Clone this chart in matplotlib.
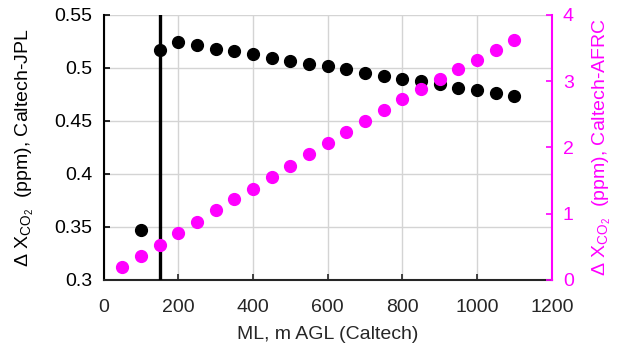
import matplotlib.pyplot as plt

plt.rcParams['font.family'] = ['Liberation Sans', 'DejaVu Sans']
plt.rcParams['mathtext.fontset'] = 'custom'
plt.rcParams['mathtext.rm'] = 'Liberation Sans'
plt.rcParams['mathtext.it'] = 'Liberation Sans'

# Caltech-JPL difference (left axis)
ml_jpl = [100, 150, 200, 250, 300, 350, 400, 450, 500, 550, 600, 650, 700,
          750, 800, 850, 900, 950, 1000, 1050, 1100]
dx_jpl = [0.347, 0.517, 0.524, 0.521, 0.518, 0.5155, 0.5127, 0.5096, 0.5064,
          0.504, 0.5015, 0.499, 0.4955, 0.4925, 0.4895, 0.4873, 0.4845,
          0.4813, 0.4794, 0.4766, 0.4738]

# Caltech-AFRC difference (right axis)
ml_afrc = [50, 100, 150, 200, 250, 300, 350, 400, 450, 500, 550, 600, 650,
           700, 750, 800, 850, 900, 950, 1000, 1050, 1100]
dx_afrc = [0.2, 0.362, 0.528, 0.704, 0.88, 1.05, 1.217, 1.377, 1.549, 1.724,
           1.896, 2.062, 2.228, 2.393, 2.564, 2.725, 2.876, 3.027, 3.178,
           3.318, 3.469, 3.62]

ml_mark = 152
magenta = '#ff00ff'
fs = 14

fig = plt.figure(figsize=(6.25, 3.5), dpi=100)
ax = fig.add_axes([0.1656, 0.2, 0.7172, 0.758])
ax2 = ax.twinx()

ax.plot(ml_jpl, dx_jpl, 'o', color='black', markersize=8.5, zorder=3)
ax.axvline(ml_mark, color='black', linewidth=2.4, zorder=4)
ax2.plot(ml_afrc, dx_afrc, 'o', color=magenta, markersize=8.5, zorder=3)

ax.set_xlim(0, 1200)
ax.set_ylim(0.3, 0.55)
ax.set_xticks(range(0, 1201, 200))
ax.set_yticks([0.3, 0.35, 0.4, 0.45, 0.5, 0.55])
ax.set_yticklabels(['0.3', '0.35', '0.4', '0.45', '0.5', '0.55'])
ax2.set_ylim(0, 4)
ax2.set_yticks([0, 1, 2, 3, 4])

ax.grid(True, color='#d4d4d4', linewidth=1.0)
ax.set_axisbelow(True)

for a in (ax, ax2):
    a.spines['top'].set_visible(False)
ax.spines['right'].set_visible(False)
ax.spines['left'].set_linewidth(1.5)
ax.spines['bottom'].set_linewidth(1.5)
ax.spines['bottom'].set_color('#262626')
ax2.spines['right'].set_color(magenta)
ax2.spines['right'].set_linewidth(1.5)
ax2.spines['left'].set_visible(False)
ax2.spines['bottom'].set_visible(False)

ax.tick_params(axis='x', direction='in', length=4, width=1.2, labelsize=fs,
               colors='#262626', pad=14)
ax.tick_params(axis='y', direction='in', length=4, width=1.2, labelsize=fs,
               colors='black', pad=8)
ax2.tick_params(direction='in', length=4, width=1.2, labelsize=fs,
                colors=magenta, pad=8)

ax.set_xlabel('ML, m AGL (Caltech)', fontsize=fs, color='#262626', labelpad=7)
ax.set_ylabel(r'$\Delta$ X$_{\mathrm{CO}_{2}}$  (ppm), Caltech-JPL',
              fontsize=fs, labelpad=13)
ax2.set_ylabel(r'$\Delta$ X$_{\mathrm{CO}_{2}}$  (ppm), Caltech-AFRC',
               fontsize=fs, color=magenta, labelpad=12)

fig.savefig('out.png', dpi=100)
